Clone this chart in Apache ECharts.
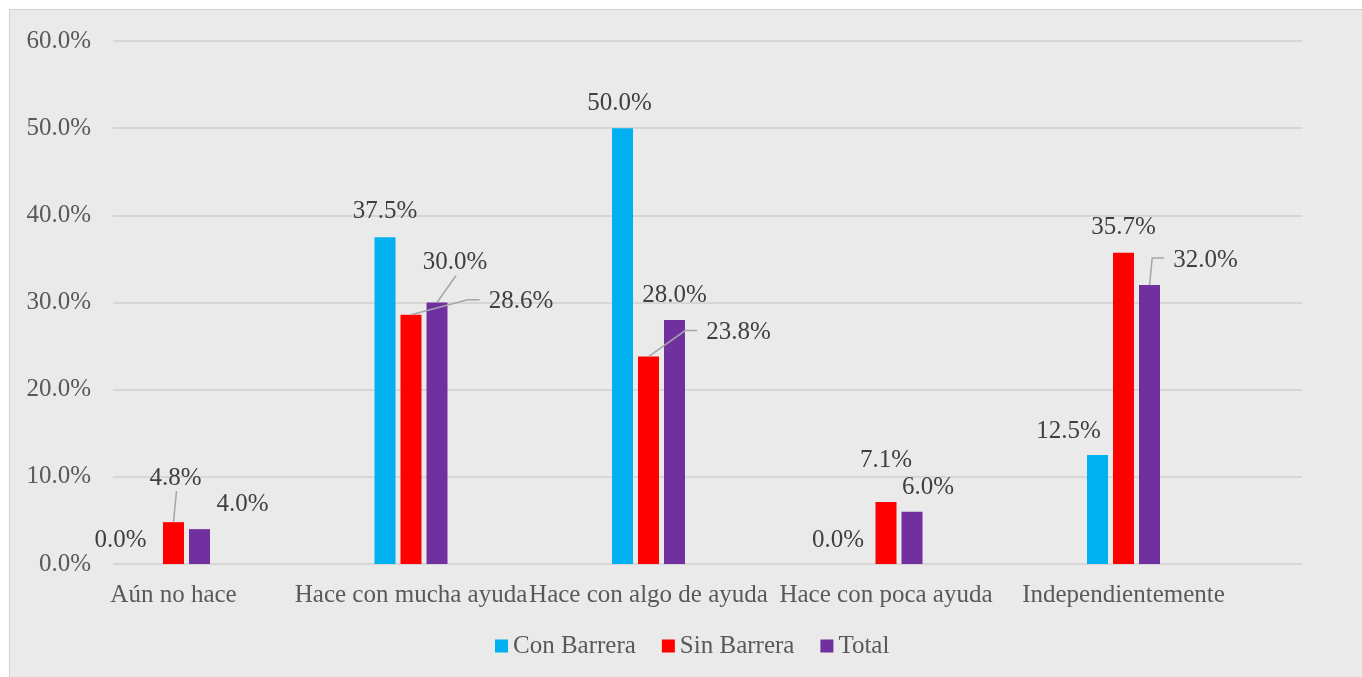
<!DOCTYPE html>
<html>
<head>
<meta charset="utf-8">
<script src="https://cdn.jsdelivr.net/npm/echarts@6/dist/echarts.min.js"></script>
<style>
  html, body { margin: 0; padding: 0; background: #ffffff; }
  #panel {
    position: absolute; left: 9px; top: 9px; width: 1353px; height: 668px;
    background: #eaeaea; border-left: 1px solid #d0d0d0; border-top: 1px solid #d0d0d0;
    box-sizing: border-box;
  }
  #chart { width: 1352px; height: 667px; }
</style>
</head>
<body>
<div id="panel"><div id="chart"></div></div>
<script>
// Category names and the three series (percent values)
const categories = ['Aún no hace', 'Hace con mucha ayuda', 'Hace con algo de ayuda', 'Hace con poca ayuda', 'Independientemente'];
const conBarrera = [0.0, 37.5, 50.0, 0.0, 12.5];
const sinBarrera = [4.8, 28.6, 23.8, 7.1, 35.7];
const total = [4.0, 30.0, 28.0, 6.0, 32.0];
const seriesNames = ['Con Barrera', 'Sin Barrera', 'Total'];
const yTicks = [0, 10, 20, 30, 40, 50, 60];

// Label placement: [dx, dy] from the default spot above each bar, plus leader style
const labelOffsets = [
  [[-27, -12], [0, -14], [-3, -13], [-22, -12], [-29, -12]],
  [[2, -32], [110, -1], [90, -12], [0, -30], [0, -13]],
  [[43, -13], [18, -28], [0, -12], [16, -12], [56, -13]]
];
const leaders = [
  [null, null, null, null, null],
  ['straight', 'elbow', 'elbow', null, null],
  [null, 'straight', null, null, 'elbow']
];
const colors = ['#00b0f0', '#ff0000', '#7030a0'];

const FONT = '"Liberation Serif", "DejaVu Serif", serif';
const FONT_SIZE = 25;
const fmt = v => Number(v).toFixed(1) + '%';
const LABEL_H = 24;
const BAR_W = 21;
const BAR_GAP_PX = 5;

// Text width for leader-line anchoring
const measureCtx = document.createElement('canvas').getContext('2d');
measureCtx.font = FONT_SIZE + 'px ' + FONT;
const textWidth = t => measureCtx.measureText(t).width;

const seriesValues = [conBarrera, sinBarrera, total];

const barSeries = seriesValues.map((vals, s) => ({
  name: seriesNames[s],
  type: 'bar',
  xAxisIndex: 1,
  yAxisIndex: 1,
  barWidth: BAR_W,
  barGap: (BAR_GAP_PX / BAR_W * 100).toFixed(1) + '%',
  itemStyle: { color: colors[s] },
  data: vals,
  label: {
    show: true,
    position: 'top',
    distance: 0,
    lineHeight: LABEL_H,
    fontFamily: FONT,
    fontSize: FONT_SIZE,
    color: '#404040',
    formatter: p => fmt(p.value)
  },
  labelLayout: function (params) {
    const off = labelOffsets[s][params.dataIndex];
    return { dx: off[0], dy: off[1] };
  }
}));

// Leader lines joining moved labels to their bars
const leaderData = [];
leaders.forEach((row, s) => row.forEach((kind, i) => {
  if (kind) leaderData.push([i, seriesValues[s][i], s]);
}));

const leaderSeries = {
  type: 'custom',
  xAxisIndex: 1,
  yAxisIndex: 1,
  silent: true,
  z: 5,
  data: leaderData,
  renderItem: function (params, api) {
    const i = api.value(0), v = api.value(1), s = api.value(2);
    const p = api.coord([i, v]);
    const bx = p[0] + (s - 1) * (BAR_W + BAR_GAP_PX);
    const top = p[1];
    const off = labelOffsets[s][i];
    const cx = bx + off[0];
    const cy = top - LABEL_H / 2 + off[1];
    let pts;
    if (leaders[s][i] === 'straight') {
      pts = [[cx + 1, cy + 13], [bx, top]];
    } else {
      const left = cx - textWidth(fmt(v)) / 2;
      pts = [[left - 9, cy - 2], [left - 21, cy - 2], [bx, top]];
    }
    return {
      type: 'polyline',
      shape: { points: pts },
      style: { stroke: '#a6a6a6', lineWidth: 1.5, fill: null }
    };
  }
};

const chart = echarts.init(document.getElementById('chart'), null, { renderer: 'canvas' });
chart.setOption({
  animation: false,
  textStyle: { fontFamily: FONT },
  grid: [
    { left: 103, right: 60, top: 31, bottom: 113 },
    { left: 44.75, right: 119.75, top: 31, bottom: 113 }
  ],
  xAxis: [
    { type: 'category', gridIndex: 0, data: categories, show: false },
    {
      type: 'category', gridIndex: 1, data: categories,
      axisLine: { show: false }, axisTick: { show: false },
      axisLabel: { fontFamily: FONT, fontSize: FONT_SIZE, color: '#595959', margin: 19, interval: 0 }
    }
  ],
  yAxis: [
    {
      type: 'value', gridIndex: 0, min: yTicks[0], max: yTicks[yTicks.length - 1], interval: 10,
      axisLine: { show: false }, axisTick: { show: false },
      axisLabel: { fontFamily: FONT, fontSize: FONT_SIZE, color: '#595959', margin: 22, formatter: fmt },
      splitLine: { lineStyle: { color: '#d6d6d6', width: 2 } }
    },
    {
      type: 'value', gridIndex: 1, min: yTicks[0], max: yTicks[yTicks.length - 1], interval: 10,
      show: false, splitLine: { show: false }
    }
  ],
  legend: {
    data: seriesNames,
    left: 480,
    top: 618,
    icon: 'rect',
    itemWidth: 13,
    itemHeight: 13,
    itemGap: 26,
    textStyle: { fontFamily: FONT, fontSize: FONT_SIZE, color: '#595959', lineHeight: 26 }
  },
  series: barSeries.concat([leaderSeries])
});
</script>
</body>
</html>
